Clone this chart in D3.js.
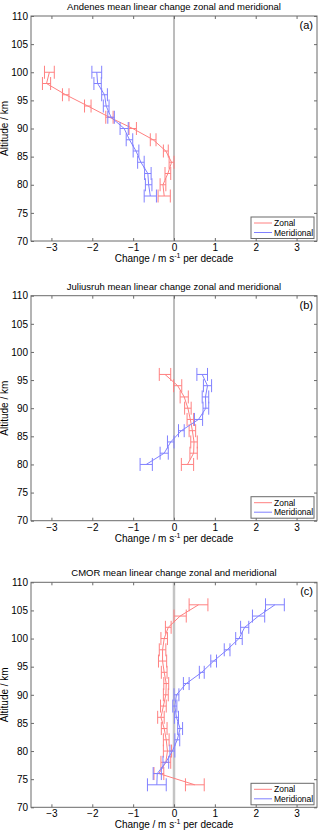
<!DOCTYPE html>
<html>
<head>
<meta charset="utf-8">
<script src="https://cdn.jsdelivr.net/npm/d3@7"></script>
<style>
  body { margin: 0; background: #fff; }
  svg { display: block; font-family: "Liberation Sans", Arial, sans-serif; }
</style>
</head>
<body>
<div id="chart"></div>
<script>
var w = 320, h = 832;

// tick values
var xTicks = [-3, -2, -1, 0, 1, 2, 3];
var yTicks = [70, 75, 80, 85, 90, 95, 100, 105, 110];

// (a) Andenes
var altA = [100, 98, 96, 94, 92, 90, 88, 86, 84, 82, 80, 78];
var zonalA = [-3.05, -3.12, -2.65, -2.11, -1.58, -1.01, -0.51, -0.2, -0.06, -0.15, -0.27, -0.24];
var zonalErrA = [0.12, 0.1, 0.08, 0.08, 0.09, 0.09, 0.07, 0.06, 0.06, 0.07, 0.07, 0.15];
var meridA = [-1.89, -1.87, -1.7, -1.66, -1.54, -1.22, -1.09, -0.93, -0.81, -0.64, -0.62, -0.58];
var meridErrA = [0.12, 0.09, 0.07, 0.07, 0.08, 0.1, 0.08, 0.07, 0.08, 0.08, 0.08, 0.15];

// (b) Juliusruh
var altB = [96, 94, 92, 90, 88, 86, 84, 82, 80];
var zonalB = [-0.22, 0.09, 0.25, 0.34, 0.4, 0.45, 0.49, 0.48, 0.33];
var zonalErrB = [0.14, 0.1, 0.1, 0.08, 0.08, 0.08, 0.08, 0.09, 0.15];
var meridB = [0.69, 0.82, 0.77, 0.78, 0.6, 0.18, -0.08, -0.24, -0.68];
var meridErrB = [0.13, 0.1, 0.08, 0.07, 0.1, 0.07, 0.08, 0.1, 0.15];

// (c) CMOR
var altC = [106, 104, 102, 100, 98, 96, 94, 92, 90, 88, 86, 84, 82, 80, 78, 76, 74];
var zonalC = [0.6, 0.15, -0.14, -0.24, -0.28, -0.28, -0.24, -0.19, -0.2, -0.26, -0.32, -0.24, -0.19, -0.16, -0.2, -0.37, 0.51];
var zonalErrC = [0.23, 0.15, 0.07, 0.08, 0.08, 0.1, 0.07, 0.06, 0.06, 0.07, 0.08, 0.07, 0.07, 0.1, 0.12, 0.12, 0.23];
var meridC = [2.47, 2.07, 1.73, 1.59, 1.3, 0.97, 0.68, 0.3, 0.06, 0.02, 0.06, 0.15, 0.08, -0.04, -0.2, -0.41, -0.42];
var meridErrC = [0.23, 0.15, 0.1, 0.08, 0.07, 0.07, 0.06, 0.07, 0.06, 0.05, 0.05, 0.06, 0.06, 0.06, 0.07, 0.1, 0.23];

var panels = [
  { title: "Andenes mean linear change zonal and meridional", tag: "(a)", top: 16,
    alt: altA, zonal: zonalA, zonalErr: zonalErrA, merid: meridA, meridErr: meridErrA, zeroColor: "#7a7a7a", zeroWidth: 1 },
  { title: "Juliusruh mean linear change zonal and meridional", tag: "(b)", top: 295.7,
    alt: altB, zonal: zonalB, zonalErr: zonalErrB, merid: meridB, meridErr: meridErrB, zeroColor: "#7a7a7a", zeroWidth: 1 },
  { title: "CMOR mean linear change zonal and meridional", tag: "(c)", top: 582.3,
    alt: altC, zonal: zonalC, zonalErr: zonalErrC, merid: meridC, meridErr: meridErrC, zeroColor: "#c4c4c4", zeroWidth: 2.5 }
];

var left = 31, right = 317, ph = 225;
var zonalColor = "#ff8080", meridColor = "#8080ff", boxColor = "#6a6a6a";

var svg = d3.select("#chart").append("svg")
    .attr("width", w)
    .attr("height", h);

var xScale = d3.scaleLinear().domain([-3.5, 3.5]).range([left, right]);

panels.forEach(function(p) {
  var yScale = d3.scaleLinear().domain([70, 110]).range([p.top + ph, p.top]);
  var g = svg.append("g");

  // zero line
  g.append("line")
    .attr("x1", xScale(0)).attr("x2", xScale(0))
    .attr("y1", p.top).attr("y2", p.top + ph)
    .attr("stroke", p.zeroColor)
    .attr("stroke-width", p.zeroWidth);

  // axes with inward ticks
  var bottom = g.append("g")
    .attr("transform", "translate(0," + (p.top + ph) + ")")
    .call(d3.axisBottom(xScale).tickValues(xTicks).tickFormat(d3.format("d"))
      .tickSizeInner(-3).tickSizeOuter(0).tickPadding(4));
  var top = g.append("g")
    .attr("transform", "translate(0," + p.top + ")")
    .call(d3.axisTop(xScale).tickValues(xTicks).tickSizeInner(-3).tickSizeOuter(0).tickFormat(""));
  var leftAx = g.append("g")
    .attr("transform", "translate(" + left + ",0)")
    .call(d3.axisLeft(yScale).tickValues(yTicks).tickSizeInner(-3).tickSizeOuter(0).tickPadding(3));
  var rightAx = g.append("g")
    .attr("transform", "translate(" + right + ",0)")
    .call(d3.axisRight(yScale).tickValues(yTicks).tickSizeInner(-3).tickSizeOuter(0).tickFormat(""));

  [bottom, top, leftAx, rightAx].forEach(function(a) {
    a.select(".domain").remove();
    a.selectAll(".tick line").attr("stroke", boxColor);
    a.selectAll("text")
      .attr("fill", "#000")
      .style("font-size", "10px")
      .style("font-family", "Liberation Sans, Arial, sans-serif");
  });
  bottom.selectAll("text").attr("dy", "0.6em");

  // box
  g.append("rect")
    .attr("x", left).attr("y", p.top)
    .attr("width", right - left).attr("height", ph)
    .attr("fill", "none")
    .attr("stroke", boxColor)
    .attr("stroke-width", 1);

  // series
  var series = [
    { vals: p.zonal, err: p.zonalErr, color: zonalColor },
    { vals: p.merid, err: p.meridErr, color: meridColor }
  ];
  series.forEach(function(s) {
    var pts = p.alt.map(function(a, i) { return { alt: a, v: s.vals[i], e: s.err[i] }; });
    var line = d3.line()
      .x(function(d) { return xScale(d.v); })
      .y(function(d) { return yScale(d.alt); });
    g.append("path")
      .datum(pts)
      .attr("d", line)
      .attr("fill", "none")
      .attr("stroke", s.color)
      .attr("stroke-width", 1);

    var eb = g.append("g").attr("stroke", s.color).attr("stroke-width", 1);
    pts.forEach(function(d) {
      var y = yScale(d.alt);
      var x0 = xScale(d.v - d.e), x1 = xScale(d.v + d.e);
      eb.append("line").attr("x1", x0).attr("x2", x1).attr("y1", y).attr("y2", y);
      eb.append("line").attr("x1", x0).attr("x2", x0).attr("y1", y - 6.5).attr("y2", y + 6.5);
      eb.append("line").attr("x1", x1).attr("x2", x1).attr("y1", y - 6.5).attr("y2", y + 6.5);
    });
  });

  // title
  g.append("text")
    .attr("x", (left + right) / 2)
    .attr("y", p.top - 6)
    .attr("text-anchor", "middle")
    .style("font-size", "9.5px")
    .text(p.title);

  // panel tag
  g.append("text")
    .attr("x", right - 4)
    .attr("y", p.top + 13)
    .attr("text-anchor", "end")
    .style("font-size", "11px")
    .text(p.tag);

  // x title
  var xt = g.append("text")
    .attr("x", (left + right) / 2)
    .attr("y", p.top + ph + 21)
    .attr("text-anchor", "middle")
    .style("font-size", "10px");
  xt.append("tspan").text("Change / m s");
  xt.append("tspan").attr("dy", "-4").style("font-size", "7px").text("-1");
  xt.append("tspan").attr("dy", "4").text(" per decade");

  // y title
  g.append("text")
    .attr("transform", "translate(8," + (p.top + ph / 2) + ") rotate(-90)")
    .attr("text-anchor", "middle")
    .style("font-size", "10px")
    .text("Altitude / km");

  // legend
  var lx = right - 66, ly = p.top + ph - 24, lw = 63, lh = 21.5;
  var leg = g.append("g");
  leg.append("rect")
    .attr("x", lx).attr("y", ly)
    .attr("width", lw).attr("height", lh)
    .attr("fill", "#fff")
    .attr("stroke", boxColor);
  [["Zonal", zonalColor], ["Meridional", meridColor]].forEach(function(d, i) {
    var yy = ly + 6 + i * 9.5;
    leg.append("line")
      .attr("x1", lx + 3).attr("x2", lx + 21)
      .attr("y1", yy).attr("y2", yy)
      .attr("stroke", d[1]);
    leg.append("text")
      .attr("x", lx + 23).attr("y", yy + 3)
      .style("font-size", "8.5px")
      .text(d[0]);
  });
});
</script>
</body>
</html>
